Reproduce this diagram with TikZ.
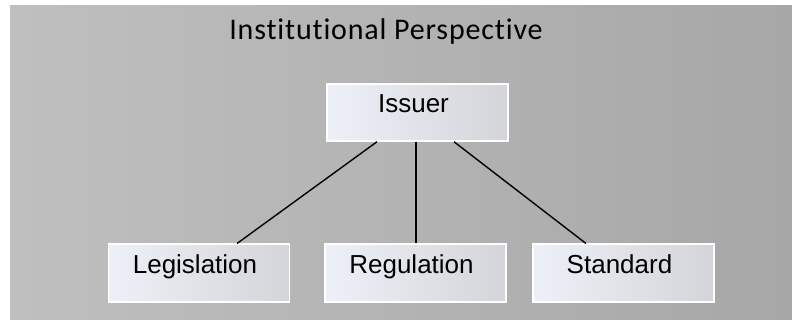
\documentclass[tikz,border=0pt]{standalone}
\usepackage{fontspec}
\setmainfont{Liberation Sans}
\newfontfamily\titlefont[Ligatures=NoCommon,LetterSpace=2.8]{Carlito}
\definecolor{bgL}{HTML}{BFBFBF}
\definecolor{bgR}{HTML}{A7A7A7}
\definecolor{boxL}{HTML}{EDF0F8}
\definecolor{boxR}{HTML}{D4D5D9}
\tikzset{
  stdbox/.style={rectangle, draw=white, line width=1.5pt, left color=boxL, right color=boxR,
    minimum width=181pt, inner sep=0pt, text height=29pt, text depth=28.5pt,
    font=\fontsize{26}{31}\selectfont},
  conn/.style={line width=1.4pt, black}
}
\begin{document}
\begin{tikzpicture}[x=1pt,y=-1pt]
\useasboundingbox (0,0) rectangle (792,320);
\shade[left color=bgL, right color=bgR] (10,6) rectangle (792,320);
\node[anchor=base, font=\titlefont\fontsize{30}{36}\selectfont] (title) at (386,40) {Institutional Perspective};
\node[stdbox, text height=28.5pt, text depth=28.5pt] (iss) at (417.5,112.5) {Issuer\hspace*{8pt}};
\node[stdbox] (leg) at (199,273) {Legislation\hspace*{8pt}};
\node[stdbox] (reg) at (415.5,273) {Regulation\hspace*{8pt}};
\node[stdbox] (std) at (623.5,273) {Standard\hspace*{8pt}};
\draw[conn] ([xshift=-40.5pt]iss.south) -- ([xshift=38pt]leg.north);
\draw[conn] ([xshift=-1.5pt]iss.south) -- ([xshift=0.5pt]reg.north);
\draw[conn] ([xshift=36.5pt]iss.south) -- ([xshift=-37.5pt]std.north);
\end{tikzpicture}
\end{document}
